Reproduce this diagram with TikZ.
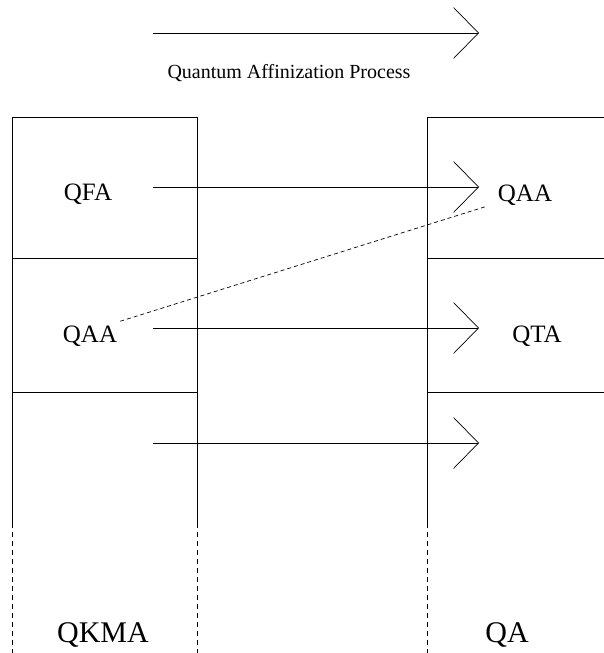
\documentclass[tikz,border=0pt]{standalone}
\usepackage{fontspec}
\setmainfont{Liberation Serif}
\usetikzlibrary{arrows.meta}
\begin{document}
\begin{tikzpicture}[x=1pt,y=-1pt,
  frame/.style={line width=0.7pt},
  lowdash/.style={line width=0.7pt,dash pattern=on 5pt off 4pt},
  flow/.style={line width=0.7pt,-{Straight Barb[length=25pt,width=51pt,line width=0.7pt]}},
  link/.style={line width=0.7pt,dash pattern=on 4pt off 3pt},
  cell/.style={anchor=base,inner sep=0pt,font=\fontsize{25}{30}\selectfont},
  col/.style={anchor=base,inner sep=0pt,font=\fontsize{30}{36}\selectfont},
  captiontext/.style={anchor=base,inner sep=0pt,font=\fontsize{20}{24}\selectfont}]
\useasboundingbox (0,0) rectangle (604,653);
% columns
\draw[frame] (12,523) -- (12,117) -- (197,117) -- (197,523);
\draw[frame] (12,258) -- (197,258);
\draw[frame] (12,392) -- (197,392);
\draw[frame] (427,523) -- (427,117) -- (604,117);
\draw[frame] (427,258) -- (604,258);
\draw[frame] (427,392) -- (604,392);
\draw[lowdash] (12,523) -- (12,653);
\draw[lowdash] (197,523) -- (197,653);
\draw[lowdash] (427,523) -- (427,653);
% texts
\node[captiontext] (proc) at (289,78) {Quantum Affinization Process};
\node[cell] (qfa) at (88,200) {QFA};
\node[cell] (qaaL) at (90,342) {QAA};
\node[cell] (qaaR) at (525,201) {QAA};
\node[cell] (qta) at (537,342) {QTA};
\node[col] (qkma) at (103,642) {QKMA};
\node[col] (qa) at (507,642) {QA};
% arrow end points
\coordinate (p0) at (153,33);  \coordinate (p1) at (479,33);
\coordinate (a0) at (153,187); \coordinate (a1) at (479,187);
\coordinate (b0) at (153,328); \coordinate (b1) at (479,328);
\coordinate (c0) at (153,443); \coordinate (c1) at (479,443);
\draw[flow] (p0) -- (p1);
\draw[flow] (a0) -- (a1);
\draw[flow] (b0) -- (b1);
\draw[flow] (c0) -- (c1);
% dashed link
\draw[link] ([shift={(3,-4)}]qaaL.north east) -- ([shift={(-11,1)}]qaaR.south west);
\end{tikzpicture}
\end{document}
